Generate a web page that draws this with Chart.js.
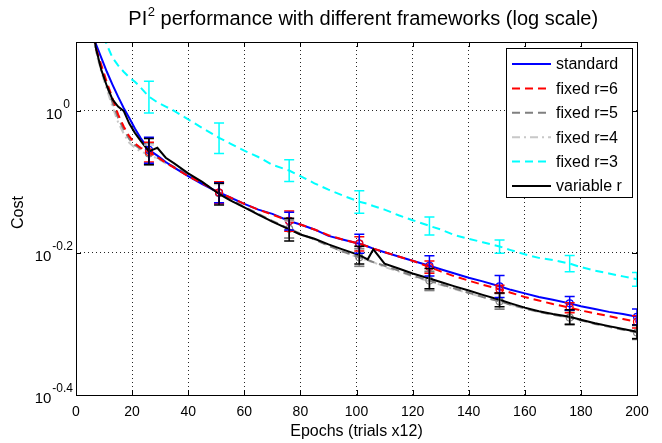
<!DOCTYPE html>
<html><head><meta charset="utf-8">
<script src="https://cdn.jsdelivr.net/npm/chart.js@4/dist/chart.umd.min.js"></script>
<style>html,body{margin:0;padding:0;background:#fff}#wrap{width:662px;height:443px}</style>
</head><body><div id="wrap"><canvas id="c" width="662" height="443"></canvas></div>
<script>
const epochs = [5,7,9,11,13,15,17,19,21,23,26,29,32,35,40,45,51,55,60,65,70,76,80,85,90,95,101,104,106,110,115,120,126,130,135,140,145,151,155,160,165,170,176,180,185,190,195,200];
const standard = [1.4454,1.2445,1.1885,1.1350,1.0889,1.0471,1.0093,0.9772,0.9441,0.9162,0.8810,0.8650,0.8472,0.8318,0.8091,0.7889,0.7674,0.7551,0.7396,0.7261,0.7161,0.6998,0.6918,0.6808,0.6668,0.6592,0.6501,0.6442,0.6397,0.6324,0.6237,0.6152,0.6053,0.5984,0.5902,0.5821,0.5754,0.5662,0.5598,0.5534,0.5470,0.5420,0.5358,0.5309,0.5260,0.5212,0.5176,0.5129];
const fixedR6 = [1.4454,1.2303,1.1614,1.0965,1.0423,0.9886,0.9506,0.9204,0.8995,0.8872,0.8750,0.8610,0.8453,0.8318,0.8091,0.7907,0.7674,0.7551,0.7396,0.7261,0.7145,0.6998,0.6918,0.6808,0.6683,0.6592,0.6501,0.6442,0.6397,0.6324,0.6237,0.6152,0.6026,0.5943,0.5848,0.5768,0.5689,0.5610,0.5546,0.5470,0.5408,0.5346,0.5284,0.5236,0.5188,0.5140,0.5093,0.5047];
const fixedR5 = [1.4454,1.2246,1.1482,1.0839,1.0280,0.9772,0.9419,0.9120,0.8954,0.8831,0.8710,0.8590,0.8453,0.8337,0.8128,0.7925,0.7656,0.7499,0.7328,0.7161,0.6998,0.6823,0.6714,0.6592,0.6457,0.6339,0.6223,0.6166,0.6124,0.6053,0.5957,0.5861,0.5768,0.5702,0.5623,0.5546,0.5470,0.5395,0.5333,0.5272,0.5212,0.5164,0.5117,0.5070,0.5012,0.4966,0.4920,0.4875];
const fixedR4 = [1.4125,1.2162,1.1350,1.0715,1.0139,0.9638,0.9290,0.9016,0.8872,0.8770,0.8670,0.8570,0.8433,0.8318,0.8128,0.7907,0.7638,0.7482,0.7311,0.7145,0.6982,0.6808,0.6699,0.6592,0.6457,0.6339,0.6209,0.6152,0.6124,0.6026,0.5943,0.5848,0.5754,0.5689,0.5610,0.5534,0.5470,0.5395,0.5333,0.5272,0.5212,0.5164,0.5117,0.5070,0.5023,0.4977,0.4932,0.4887];
const fixedR3 = [null,1.3804,1.3032,1.2388,1.1885,1.1588,1.1350,1.1143,1.0990,1.0789,1.0471,1.0280,1.0139,1.0000,0.9727,0.9462,0.9162,0.8995,0.8790,0.8610,0.8395,0.8241,0.8091,0.7907,0.7745,0.7603,0.7447,0.7396,0.7345,0.7261,0.7129,0.7015,0.6887,0.6808,0.6683,0.6607,0.6531,0.6442,0.6368,0.6281,0.6209,0.6166,0.6095,0.6026,0.5957,0.5902,0.5848,0.5794];
const variableR = [1.4791,1.2303,1.1429,1.0839,1.0375,1.0139,1.0000,0.9594,0.9311,0.9078,0.8770,0.8872,0.8590,0.8433,0.8166,0.7943,0.7638,0.7482,0.7311,0.7145,0.6982,0.6808,0.6699,0.6607,0.6486,0.6383,0.6266,0.6180,0.6383,0.6095,0.5998,0.5902,0.5808,0.5741,0.5662,0.5585,0.5508,0.5420,0.5358,0.5284,0.5224,0.5176,0.5129,0.5082,0.5023,0.4977,0.4932,0.4887];

const errEpochs = [26,51,76,101,126,151,176,200];
const errStandard = [0.037,0.025,0.020,0.020,0.020,0.020,0.012,0.013];
const errFixedR6 = [0.028,0.027,0.023,0.015,0.012,0.007,0.0085,0.010];
const errFixedR5 = [0.030,0.025,0.020,0.018,0.018,0.014,0.012,0.011];
const errFixedR4 = [0.028,0.024,0.019,0.017,0.017,0.013,0.011,0.010];
const errFixedR3 = [0.054,0.045,0.029,0.027,0.020,0.014,0.016,0.013];
const errVariableR = [0.037,0.027,0.025,0.018,0.019,0.012,0.012,0.011];

const seriesNames = ['standard','fixed r=6','fixed r=5','fixed r=4','fixed r=3','variable r'];
const yTickExponents = [0, -0.2, -0.4];
const titleText = ['PI', '2', ' performance with different frameworks (log scale)'];
const xTitle = 'Epochs (trials x12)';
const yTitle = 'Cost';

const FONT = "'Liberation Sans', Arial, Helvetica, sans-serif";

const styles = [
  {color:'#0000ff', dash:[], order:2, marker:true},
  {color:'#ff0000', dash:[8,5], order:1, marker:true},
  {color:'#808080', dash:[8,5], order:3, marker:true},
  {color:'#c8c8c8', dash:[8,4,2,4], order:4, marker:false},
  {color:'#00ffff', dash:[8,5], order:5, marker:false},
  {color:'#000000', dash:[], order:0, marker:false}
];
const seriesValues = [standard, fixedR6, fixedR5, fixedR4, fixedR3, variableR];
const seriesErr = [errStandard, errFixedR6, errFixedR5, errFixedR4, errFixedR3, errVariableR];

const datasets = seriesNames.map((name, i) => ({
  label: name,
  data: epochs.map((e, j) => ({x: e, y: seriesValues[i][j]})),
  borderColor: styles[i].color,
  backgroundColor: 'rgba(0,0,0,0)',
  borderWidth: 2,
  borderDash: styles[i].dash,
  tension: 0,
  spanGaps: false,
  order: styles[i].order,
  pointRadius: (ctx) => (styles[i].marker && errEpochs.includes(epochs[ctx.dataIndex])) ? 3.5 : 0,
  pointBorderWidth: 1.2,
  pointBorderColor: styles[i].color,
  pointBackgroundColor: 'rgba(0,0,0,0)',
  pointHoverRadius: 0
}));

const decorPlugin = {
  id: 'decor',
  afterDatasetsDraw(chart) {
    const {ctx, chartArea: ca, scales: {x, y}} = chart;
    ctx.save();
    ctx.beginPath(); ctx.rect(ca.left, ca.top, ca.right - ca.left, ca.bottom - ca.top); ctx.clip();
    const drawOrder = [4,3,2,1,0,5];
    drawOrder.forEach(i => {
      ctx.strokeStyle = styles[i].color;
      ctx.lineWidth = 1.5;
      ctx.setLineDash([]);
      errEpochs.forEach((e, k) => {
        const j = epochs.indexOf(e);
        const m = seriesValues[i][j];
        if (m == null) return;
        const px = x.getPixelForValue(e);
        const y1 = y.getPixelForValue(m + seriesErr[i][k]);
        const y2 = y.getPixelForValue(m - seriesErr[i][k]);
        ctx.beginPath();
        ctx.moveTo(px, y1); ctx.lineTo(px, y2);
        ctx.moveTo(px - 5, y1); ctx.lineTo(px + 5, y1);
        ctx.moveTo(px - 5, y2); ctx.lineTo(px + 5, y2);
        ctx.stroke();
      });
    });
    ctx.restore();
  },
  afterDraw(chart) {
    const {ctx, chartArea: ca, scales: {x, y}} = chart;
    ctx.save();
    ctx.setLineDash([]);
    ctx.strokeStyle = '#000'; ctx.lineWidth = 1;
    ctx.strokeRect(Math.round(ca.left) + 0.5, Math.round(ca.top) + 0.5, Math.round(ca.right - ca.left), Math.round(ca.bottom - ca.top));
    ctx.beginPath();
    x.ticks.forEach(t => {
      const px = Math.round(x.getPixelForValue(t.value)) + 0.5;
      ctx.moveTo(px, ca.bottom); ctx.lineTo(px, ca.bottom - 5);
      ctx.moveTo(px, ca.top); ctx.lineTo(px, ca.top + 5);
    });
    yTickExponents.forEach(ex => {
      const py = Math.round(y.getPixelForValue(Math.pow(10, ex))) + 0.5;
      ctx.moveTo(ca.left, py); ctx.lineTo(ca.left + 5, py);
      ctx.moveTo(ca.right, py); ctx.lineTo(ca.right - 5, py);
    });
    ctx.stroke();
    ctx.fillStyle = '#000';
    ctx.textBaseline = 'alphabetic';
    yTickExponents.forEach(ex => {
      const py = y.getPixelForValue(Math.pow(10, ex));
      const expStr = ex === 0 ? '0' : ex.toFixed(1);
      ctx.font = '12px ' + FONT;
      const we = ctx.measureText(expStr).width;
      ctx.font = '15px ' + FONT;
      const wb = ctx.measureText('10').width;
      const right = ex === 0 ? 70 : 73;
      ctx.textAlign = 'left';
      ctx.fillText('10', right - we - wb - 1, py + 8);
      ctx.font = '12px ' + FONT;
      ctx.fillText(expStr, right - we, py - 3);
    });
    ctx.font = '16px ' + FONT;
    ctx.textAlign = 'center'; ctx.textBaseline = 'middle';
    ctx.fillText(xTitle, (ca.left + ca.right) / 2, 432);
    ctx.save();
    ctx.translate(19, (ca.top + ca.bottom) / 2 - 6);
    ctx.rotate(-Math.PI / 2);
    ctx.fillText(yTitle, 0, 0);
    ctx.restore();
    ctx.textAlign = 'left'; ctx.textBaseline = 'alphabetic';
    ctx.font = '20px ' + FONT;
    const w0 = ctx.measureText(titleText[0]).width;
    const w2 = ctx.measureText(titleText[2]).width;
    ctx.font = '13px ' + FONT;
    const w1 = ctx.measureText(titleText[1]).width;
    const total = w0 + w1 + w2;
    let tx = 363 - total / 2;
    const ty = 25;
    ctx.font = '20px ' + FONT;
    ctx.fillText(titleText[0], tx, ty);
    ctx.font = '13px ' + FONT;
    ctx.fillText(titleText[1], tx + w0 + 0.5, ty - 9);
    ctx.font = '20px ' + FONT;
    ctx.fillText(titleText[2], tx + w0 + w1 + 0.5, ty);
    const lx = 506, ly = 48, lw = 126, lh = 149;
    ctx.fillStyle = '#fff';
    ctx.fillRect(lx, ly, lw, lh);
    ctx.strokeStyle = '#000'; ctx.lineWidth = 1;
    ctx.strokeRect(lx + 0.5, ly + 0.5, lw, lh);
    ctx.font = '16px ' + FONT;
    ctx.textBaseline = 'middle';
    seriesNames.forEach((name, i) => {
      const ry = 64 + i * 24.4;
      ctx.strokeStyle = styles[i].color;
      ctx.lineWidth = 2;
      ctx.setLineDash(styles[i].dash);
      ctx.beginPath();
      ctx.moveTo(512, ry); ctx.lineTo(551, ry);
      ctx.stroke();
      ctx.setLineDash([]);
      ctx.fillStyle = '#000';
      ctx.fillText(name, 556, ry + 1);
    });
    ctx.restore();
  }
};

new Chart(document.getElementById('c'), {
  type: 'line',
  data: { datasets },
  options: {
    responsive: false,
    animation: false,
    layout: { padding: { left: 0, right: 25, top: 42, bottom: 0 } },
    plugins: { legend: { display: false }, title: { display: false }, tooltip: { enabled: false } },
    scales: {
      x: {
        type: 'linear', min: 0, max: 200,
        afterFit: (s) => { s.height = 48; },
        ticks: { stepSize: 20, autoSkip: false, maxRotation: 0, padding: 9, color: '#000', font: { size: 14, family: FONT } },
        grid: { color: 'rgba(0,0,0,0.85)', lineWidth: 1, drawTicks: false },
        border: { display: false, dash: [1, 3] }
      },
      y: {
        type: 'logarithmic', min: Math.pow(10, -0.4), max: 1.25,
        afterFit: (s) => { s.width = 76; },
        afterBuildTicks: (s) => { s.ticks = yTickExponents.map(e => ({ value: Math.pow(10, e) })); },
        ticks: { display: false },
        grid: { color: 'rgba(0,0,0,0.85)', lineWidth: 1, drawTicks: false },
        border: { display: false, dash: [1, 3] }
      }
    }
  },
  plugins: [decorPlugin]
});
</script></body></html>
